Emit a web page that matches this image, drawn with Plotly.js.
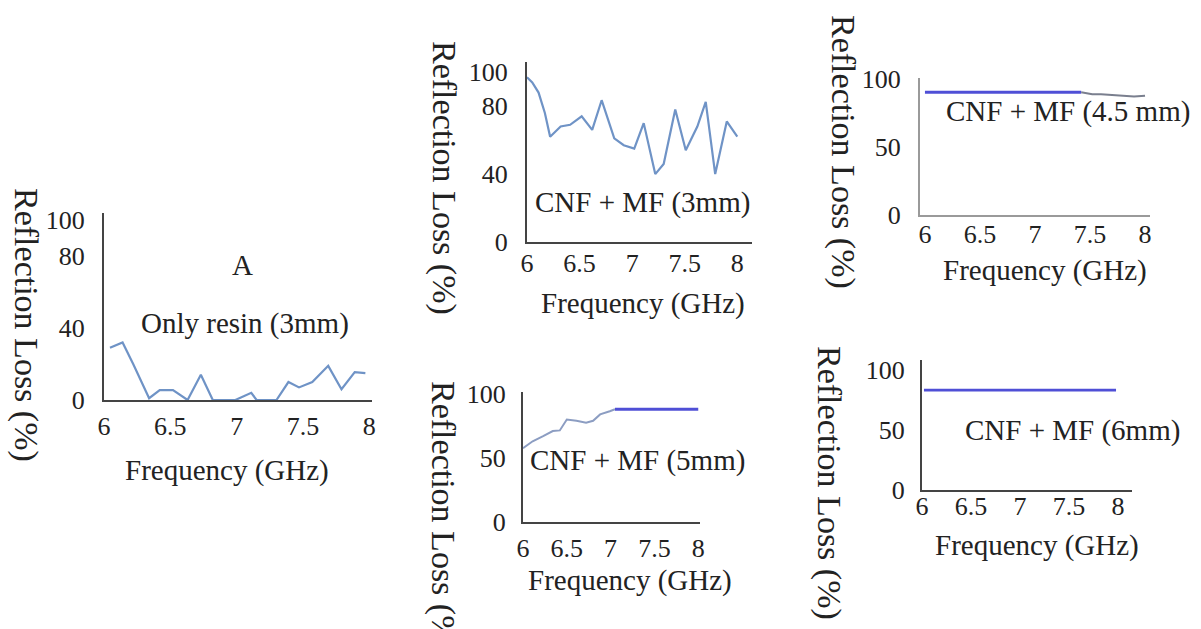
<!DOCTYPE html>
<html>
<head>
<meta charset="utf-8">
<script src="https://cdn.plot.ly/plotly-3.0.1.min.js"></script>
<style>html,body{margin:0;padding:0;background:#fff}#chart{width:1201px;height:629px}</style>
</head>
<body>
<div id="chart"></div>
<script>
// ---- data ----
const xTicks = [6, 6.5, 7, 7.5, 8];
const xTickText = ['6', '6.5', '7', '7.5', '8'];

const freqResin = [6.045, 6.14, 6.22, 6.34, 6.42, 6.52, 6.63, 6.73, 6.82, 6.99, 7.11, 7.15, 7.30, 7.39, 7.47, 7.57, 7.69, 7.79, 7.89, 7.97];
const rlResin   = [29, 32, 20, 1, 5.5, 5.5, 0, 14, 0, 0, 4, 0, 0, 10, 7, 10, 19, 6, 15.5, 15];

const freq3mm = [6.0, 6.05, 6.11, 6.17, 6.22, 6.32, 6.41, 6.52, 6.62, 6.71, 6.83, 6.92, 7.02, 7.11, 7.22, 7.30, 7.41, 7.51, 7.62, 7.70, 7.79, 7.90, 8.0];
const rl3mm   = [97, 94, 88, 76, 62, 68, 69, 74, 66, 83.5, 61, 57, 55, 70, 40, 46, 78, 54, 68, 82.5, 40, 71, 62];

const freq45Flat = [6.0, 7.42];
const rl45Flat   = [90.5, 90.5];
const freq45Tail = [7.42, 7.47, 7.52, 7.6, 7.7, 7.8, 7.9, 8.0];
const rl45Tail   = [90.5, 89.8, 89, 89, 88.3, 87.6, 87.4, 88];

const freq5Rise = [6.0, 6.11, 6.23, 6.34, 6.42, 6.50, 6.61, 6.72, 6.80, 6.88, 6.99, 7.05];
const rl5Rise   = [57.6, 63, 67, 71, 71.5, 80, 79, 77.5, 79, 84, 86.5, 88];
const freq5Flat = [7.05, 8.0];
const rl5Flat   = [88, 88];

const freq6mm = [6.02, 7.98];
const rl6mm   = [83, 83];

// ---- layout helpers ----
const W = 1201, H = 629;
const fx = p => p / W;
const fy = p => 1 - p / H;
const SERIF = 'Liberation Serif, Times New Roman, serif';
const TXT = '#222';
const thin = '#6f93c6';
const thick = '#4f4fd6';

function xa(left, right, r, lc, standoff) {
  return {domain: [fx(left), fx(right)], range: r, tickvals: xTicks, ticktext: xTickText,
    showline: true, linecolor: lc, linewidth: 2, showgrid: false, zeroline: false,
    ticks: '', ticklabelstandoff: standoff, tickfont: {family: SERIF, size: 26, color: TXT},
    fixedrange: true};
}
function ya(bottom, top, r, tv, lc, standoff) {
  return {domain: [fy(bottom), fy(top)], range: r, tickvals: tv, ticktext: tv.map(String),
    showline: true, linecolor: lc, linewidth: 2, showgrid: false, zeroline: false,
    ticks: '', ticklabelstandoff: standoff, tickfont: {family: SERIF, size: 26, color: TXT},
    fixedrange: true};
}
function note(text, px, py, size, angle) {
  return {text: text, x: fx(px), y: fy(py), xref: 'paper', yref: 'paper', showarrow: false,
    xanchor: 'center', yanchor: 'middle', textangle: angle || 0,
    font: {family: SERIF, size: size, color: TXT}};
}

const traces = [
  {x: freqResin, y: rlResin, xaxis: 'x', yaxis: 'y', mode: 'lines', line: {color: thin, width: 2.2}},
  {x: freq3mm, y: rl3mm, xaxis: 'x2', yaxis: 'y2', mode: 'lines', line: {color: thin, width: 2.2}},
  {x: freq45Flat, y: rl45Flat, xaxis: 'x3', yaxis: 'y3', mode: 'lines', line: {color: thick, width: 3.2}},
  {x: freq45Tail, y: rl45Tail, xaxis: 'x3', yaxis: 'y3', mode: 'lines', line: {color: '#7a7f8e', width: 2}},
  {x: freq5Rise, y: rl5Rise, xaxis: 'x4', yaxis: 'y4', mode: 'lines', line: {color: '#8c9dc2', width: 2}},
  {x: freq5Flat, y: rl5Flat, xaxis: 'x4', yaxis: 'y4', mode: 'lines', line: {color: thick, width: 3}},
  {x: freq6mm, y: rl6mm, xaxis: 'x5', yaxis: 'y5', mode: 'lines', line: {color: thick, width: 2.6}}
];

const layout = {
  width: W, height: H, margin: {l: 0, r: 0, t: 0, b: 0},
  paper_bgcolor: '#fff', plot_bgcolor: 'rgba(0,0,0,0)', showlegend: false,
  xaxis:  Object.assign(xa(104, 372, [6, 8.02], '#444', 2), {anchor: 'y'}),
  yaxis:  Object.assign(ya(400, 213, [0, 104], [0, 40, 80, 100], '#444', 12), {anchor: 'x'}),
  xaxis2: Object.assign(xa(527, 752, [6, 8.14], '#444', -3), {anchor: 'y2'}),
  yaxis2: Object.assign(ya(242, 62, [0, 106], [0, 40, 80, 100], '#444', 12), {anchor: 'x2'}),
  xaxis3: Object.assign(xa(920, 1150, [5.955, 8.045], '#9a9a9a', -5), {anchor: 'y3'}),
  yaxis3: Object.assign(ya(215, 78, [0, 101], [0, 50, 100], '#9a9a9a', 12), {anchor: 'x3'}),
  xaxis4: Object.assign(xa(523, 700, [6, 8.02], '#444', 2), {anchor: 'y4'}),
  yaxis4: Object.assign(ya(522, 392, [0, 101.5], [0, 50, 100], '#444', 10), {anchor: 'x4'}),
  xaxis5: Object.assign(xa(922, 1132, [6, 8.143], '#444', -8), {anchor: 'y5'}),
  yaxis5: Object.assign(ya(490, 360, [0, 108], [0, 50, 100], '#444', 10), {anchor: 'x5'}),
  annotations: [
    note('A', 242, 265, 29),
    note('Only resin (3mm)', 245, 323, 29),
    note('CNF + MF (3mm)', 642, 202, 29),
    note('CNF + MF (4.5 mm)', 1068, 112, 29),
    note('CNF + MF (5mm)', 637, 460, 29),
    note('CNF + MF (6mm)', 1072, 430, 29),
    note('Frequency (GHz)', 227, 470, 29),
    note('Frequency (GHz)', 643, 303, 29),
    note('Frequency (GHz)', 1045, 270, 29),
    note('Frequency (GHz)', 630, 580, 29),
    note('Frequency (GHz)', 1037, 545, 29),
    note('Reflection Loss (%)', 26, 325, 34, 90),
    note('Reflection Loss (%)', 444, 178, 34, 90),
    note('Reflection Loss (%)', 843, 152, 34, 90),
    note('Reflection Loss (%)', 443, 518, 34, 90),
    note('Reflection Loss (%)', 829, 483, 34, 90)
  ]
};

Plotly.newPlot('chart', traces, layout, {staticPlot: true, displayModeBar: false});
</script>
</body>
</html>
